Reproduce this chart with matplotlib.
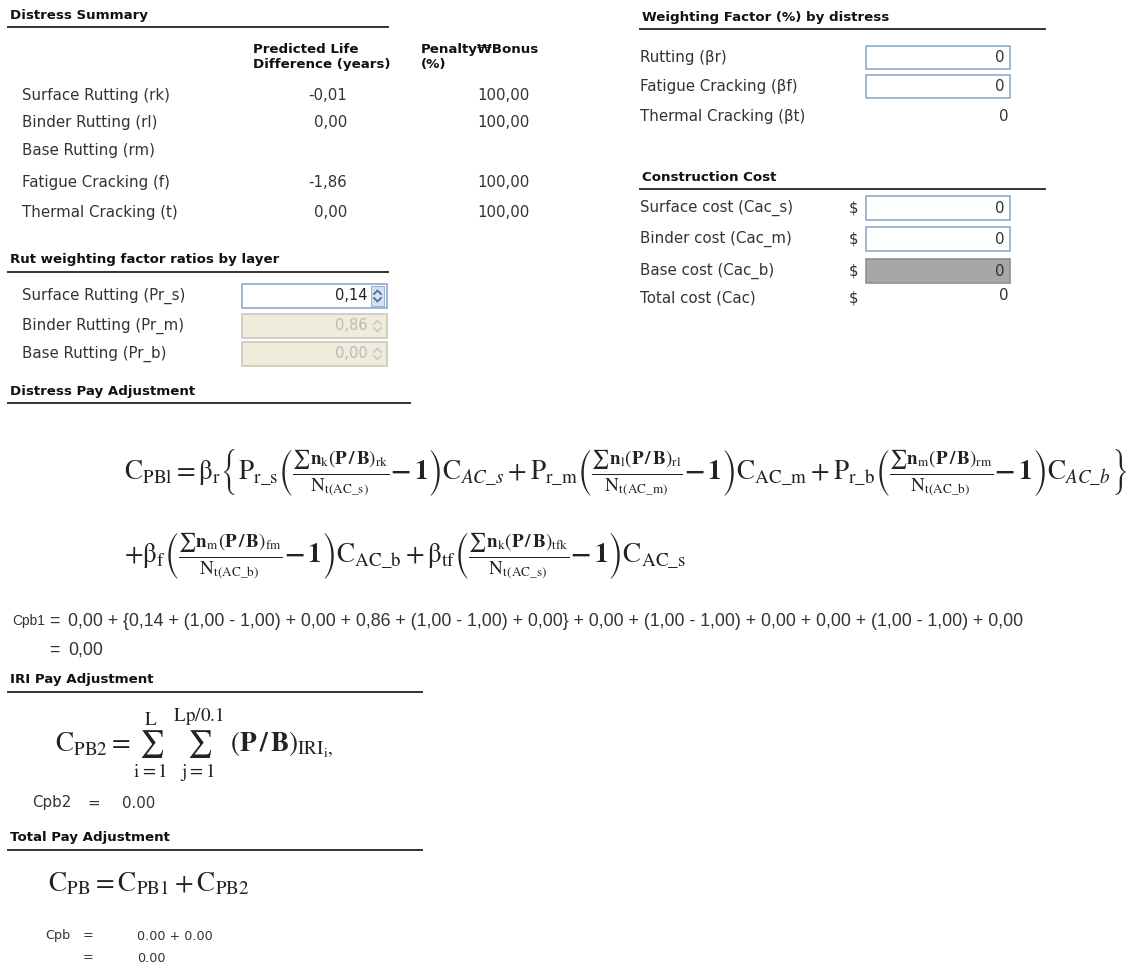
import matplotlib
matplotlib.use("Agg")
import matplotlib.pyplot as plt
from matplotlib.patches import Rectangle

plt.rcParams["font.family"] = ["DejaVu Sans"]
plt.rcParams["mathtext.fontset"] = "stix"

# ---- values shown in the form ----
distress_labels = ["Surface Rutting (rk)", "Binder Rutting (rl)", "Base Rutting (rm)",
                   "Fatigue Cracking (f)", "Thermal Cracking (t)"]
life_diff = ["-0,01", "0,00", "", "-1,86", "0,00"]
penalty_bonus = ["100,00", "100,00", "", "100,00", "100,00"]

rut_labels = ["Surface Rutting (Pr_s)", "Binder Rutting (Pr_m)", "Base Rutting (Pr_b)"]
rut_ratios = ["0,14", "0,86", "0,00"]

weight_labels = ["Rutting (\u03b2r)", "Fatigue Cracking (\u03b2f)", "Thermal Cracking (\u03b2t)"]
weight_values = ["0", "0", "0"]

cost_labels = ["Surface cost (Cac_s)", "Binder cost (Cac_m)", "Base cost (Cac_b)", "Total cost (Cac)"]
cost_values = ["0", "0", "0", "0"]

cpb1_terms = "0,00 + {0,14 + (1,00 - 1,00) + 0,00 + 0,86 + (1,00 - 1,00) + 0,00} + 0,00 + (1,00 - 1,00) + 0,00 + 0,00 + (1,00 - 1,00) + 0,00"
cpb1_result = "0,00"
cpb2_result = "0.00"
cpb_terms = "0.00 + 0.00"
cpb_result = "0.00"

# ---- canvas in pixel units ----
W, H = 1137, 969
fig = plt.figure(figsize=(W / 100, H / 100), dpi=100)
ax = fig.add_axes([0, 0, 1, 1])
ax.set_xlim(0, W)
ax.set_ylim(H, 0)
ax.axis("off")

LBL = dict(fontsize=10.8, color="#333333", va="center")
HDR = dict(fontsize=9.6, color="#111111", va="center", fontweight="bold")
MATH = dict(fontsize=19.5, va="center", color="#222222")
BLUE = "#8fa9c9"


def header(x, y, text, x1):
    ax.text(x, y, text, **HDR)
    ax.plot([x - 2, x1], [y + 12, y + 12], color="#333333", lw=1.4)


def box(x0, y0, w, h, face="white", edge=BLUE):
    ax.add_patch(Rectangle((x0, y0), w, h, facecolor=face, edgecolor=edge, lw=1.2))


def spinner(x0, y0, h, active):
    col = "#4a6fa5" if active else "#c8c8c8"
    if active:
        ax.add_patch(Rectangle((x0, y0 + 2), 13, h - 4, facecolor="#d5e2f2",
                               edgecolor="#9db4d3", lw=0.8))
    cx = x0 + 6.5
    ym = y0 + h / 2
    ax.plot([cx - 3.5, cx, cx + 3.5], [ym - 2, ym - 5.5, ym - 2], color=col, lw=1.3)
    ax.plot([cx - 3.5, cx, cx + 3.5], [ym + 2, ym + 5.5, ym + 2], color=col, lw=1.3)


# ---- Distress Summary ----
header(10, 15, "Distress Summary", 388)
ax.text(253, 49, "Predicted Life", **HDR)
ax.text(253, 64, "Difference (years)", **HDR)
ax.text(421, 49, "Penalty\u20a9Bonus", **HDR)
ax.text(421, 64, "(%)", **HDR)
row_y = [95, 122, 150, 182, 212]
for y, lab, ld, pb in zip(row_y, distress_labels, life_diff, penalty_bonus):
    ax.text(22, y, lab, **LBL)
    ax.text(347, y, ld, ha="right", **LBL)
    ax.text(530, y, pb, ha="right", **LBL)

# ---- Rut weighting factor ratios ----
header(10, 260, "Rut weighting factor ratios by layer", 388)
rut_y = [296, 326, 354]
for i, (y, lab, val) in enumerate(zip(rut_y, rut_labels, rut_ratios)):
    ax.text(22, y, lab, **LBL)
    active = i == 0
    box(242, y - 12, 145, 24, face="white" if active else "#efecdc",
        edge=BLUE if active else "#c9c9c0")
    ax.text(368, y, val, ha="right", fontsize=10.5, va="center",
            color="#222222" if active else "#bdbab0")
    spinner(371, y - 12, 24, active)

# ---- Weighting Factor ----
header(642, 17, "Weighting Factor (%) by distress", 1045)
wf_y = [57, 86, 116]
for i, (y, lab, val) in enumerate(zip(wf_y, weight_labels, weight_values)):
    ax.text(640, y, lab, **LBL)
    if i < 2:
        box(866, y - 11, 144, 23)
        ax.text(1004, y, val, ha="right", **LBL)
    else:
        ax.text(1008, y, val, ha="right", **LBL)

# ---- Construction Cost ----
header(642, 177, "Construction Cost", 1045)
cc_y = [208, 239, 271, 298]
for i, (y, lab, val) in enumerate(zip(cc_y, cost_labels, cost_values)):
    ax.text(640, y, lab, **LBL)
    ax.text(853, y, "$", ha="center", **LBL)
    if i < 2:
        box(866, y - 12, 144, 24)
        ax.text(1004, y, val, ha="right", **LBL)
    elif i == 2:
        box(866, y - 12, 144, 24, face="#a7a7a7", edge="#8f8f8f")
        ax.text(1004, y, val, ha="right", **LBL)
    else:
        ax.text(1008, y - 3, val, ha="right", **LBL)

# ---- Distress Pay Adjustment ----
header(10, 391, "Distress Pay Adjustment", 410)

nb = r"\mathbf{n}"
pb = r"(\mathbf{P\,/\,B})"
one = r"\mathbf{-\,1}"
line1 = (r"$\mathrm{C_{PBl}} = \mathrm{\beta_r}\left\{\mathrm{P}_{\mathrm{r\_s}}\left(\frac{\sum" + nb + r"_\mathrm{k}" + pb
         + r"_{\mathrm{rk}}}{\mathrm{N}_{\mathrm{t(AC\_s)}}}" + one
         + r"\right)\mathrm{C}_{AC\_s}+\mathrm{P}_{\mathrm{r\_m}}\left(\frac{\sum"
         + nb + r"_\mathrm{l}" + pb + r"_{\mathrm{rl}}}{\mathrm{N}_{\mathrm{t(AC\_m)}}}" + one
         + r"\right)\mathrm{C}_{\mathrm{AC\_m}}+\mathrm{P}_{\mathrm{r\_b}}\left(\frac{\sum" + nb + r"_\mathrm{m}" + pb
         + r"_{\mathrm{rm}}}{\mathrm{N}_{\mathrm{t(AC\_b)}}}" + one + r"\right)\mathrm{C}_{AC\_b}\right\}$")
line2 = (r"$+\mathrm{\beta_f}\left(\frac{\sum" + nb + r"_\mathrm{m}" + pb
         + r"_{\mathrm{fm}}}{\mathrm{N}_{\mathrm{t(AC\_b)}}}" + one
         + r"\right)\mathrm{C}_{\mathrm{AC\_b}}+\mathrm{\beta_{tf}}\left(\frac{\sum" + nb + r"_\mathrm{k}" + pb
         + r"_{\mathrm{tfk}}}{\mathrm{N}_{\mathrm{t(AC\_s)}}}" + one + r"\right)\mathrm{C}_{\mathrm{AC\_s}}$")
ax.text(124, 472, line1, **MATH)
ax.text(124, 556, line2, **MATH)

NAR = dict(fontsize=12.8, color="#333333", va="center", family=["Liberation Sans"])
ax.text(12, 621, "Cpb1", fontsize=10, color="#333333", va="center", family=["Liberation Sans"])
ax.text(54, 621, "=", ha="center", **NAR)
ax.text(68, 621, cpb1_terms, **NAR)
ax.text(54, 650, "=", ha="center", **NAR)
ax.text(68, 650, cpb1_result, **NAR)

# ---- IRI Pay Adjustment ----
header(10, 680, "IRI Pay Adjustment", 422)
iri = (r"$\mathrm{C_{PB2}} = \sum_{\mathrm{i=1}}^{\mathrm{L}}\ \sum_{\mathrm{j=1}}^{\mathrm{Lp/0.1}}\ "
       r"(\mathbf{P\,/\,B})_{\mathrm{IRI}_{\mathrm{i}},}$")
ax.text(55, 745, iri, **MATH)
ax.text(32, 803, "Cpb2", **LBL)
ax.text(94, 803, "=", ha="center", **LBL)
ax.text(122, 803, cpb2_result, **LBL)

# ---- Total Pay Adjustment ----
header(10, 838, "Total Pay Adjustment", 422)
ax.text(48, 884, r"$\mathrm{C_{PB}} = \mathrm{C_{PB1}} + \mathrm{C_{PB2}}$", **MATH)
SML = dict(fontsize=9.2, color="#333333", va="center")
ax.text(45, 936, "Cpb", **SML)
ax.text(88, 936, "=", ha="center", **SML)
ax.text(137, 936, cpb_terms, **SML)
ax.text(88, 958, "=", ha="center", **SML)
ax.text(137, 958, cpb_result, **SML)

fig.savefig("out.png", dpi=100, facecolor="white")
